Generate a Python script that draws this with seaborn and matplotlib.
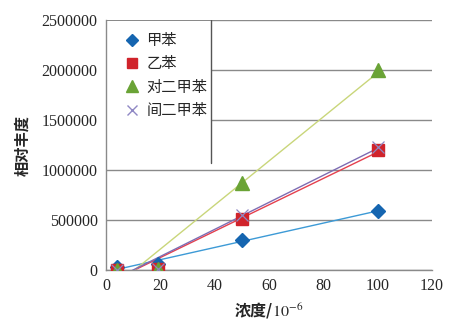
import numpy as np
import pandas as pd
import seaborn as sns
import matplotlib
matplotlib.use("Agg")
import matplotlib.pyplot as plt
from matplotlib.patches import Rectangle
from matplotlib.lines import Line2D

# data
conc = [4, 19, 50, 100]
series_names = ["甲苯", "乙苯", "对二甲苯", "间二甲苯"]
toluene = [30000, 60000, 300000, 590000]
ethylbenzene = [5000, 10000, 510000, 1200000]
p_xylene = [5000, 10000, 870000, 2000000]
m_xylene = [5000, 15000, 550000, 1230000]
x_ticks = [0, 20, 40, 60, 80, 100, 120]
y_ticks = [0, 500000, 1000000, 1500000, 2000000, 2500000]

sns.set_style("white")
plt.rcParams['font.family'] = ['Liberation Serif', 'Noto Sans CJK SC', 'DejaVu Sans']
plt.rcParams['mathtext.fontset'] = 'stix'

rows = []
for name, vals in zip(series_names, [toluene, ethylbenzene, p_xylene, m_xylene]):
    for x, y in zip(conc, vals):
        rows.append({"浓度": x, "相对丰度": y, "物质": name})
df = pd.DataFrame(rows)

fig = plt.figure(figsize=(4.56, 3.21), dpi=100)
ax = fig.add_axes([106/456, 1 - 270/321, 326/456, 250/321])

marker_col = {"甲苯": "#1565b0", "乙苯": "#d0232b", "对二甲苯": "#6aa336", "间二甲苯": "#8f88c4"}
line_col = {"甲苯": "#3d9ad6", "乙苯": "#e5404e", "对二甲苯": "#c9d67a", "间二甲苯": "#7d6cb3"}
markers = {"甲苯": "D", "乙苯": "s", "对二甲苯": "^", "间二甲苯": "x"}
msize = {"甲苯": 7, "乙苯": 9, "对二甲苯": 9.5, "间二甲苯": 9}

for name in series_names:
    sub = df[df["物质"] == name]
    sns.regplot(data=sub, x="浓度", y="相对丰度", ax=ax, scatter=False, ci=None,
                truncate=True, line_kws=dict(color=line_col[name], lw=1.0, zorder=3))

for name in series_names:
    sub = df[df["物质"] == name]
    ax.plot(sub["浓度"], sub["相对丰度"], linestyle="none", marker=markers[name],
            markersize=msize[name], color=marker_col[name],
            markeredgewidth=1.0 if name != "间二甲苯" else 0.9, zorder=4 if name != "间二甲苯" else 5)

ax.set_xlim(0, 120)
ax.set_ylim(0, 2500000)
ax.set_xticks(x_ticks)
ax.set_yticks(y_ticks)
ax.set_xticklabels([str(t) for t in x_ticks], fontsize=11.5)
ax.set_yticklabels([str(t) for t in y_ticks], fontsize=11.5)
ax.yaxis.grid(True, color="#8a8a8a", lw=1.0)
ax.set_axisbelow(True)
for s in ["top", "right"]:
    ax.spines[s].set_visible(False)
for s in ["left", "bottom"]:
    ax.spines[s].set_color("#8a8a8a")
    ax.spines[s].set_linewidth(1.0)
ax.tick_params(axis="both", direction="out", length=4, color="#8a8a8a", width=1.0, pad=2)

# legend box
ax.add_patch(Rectangle((0, 0.428), 0.322, 0.566, transform=ax.transAxes,
                       facecolor="white", edgecolor="none", zorder=2))
ax.add_line(Line2D([0.322, 0.322], [0.428, 1.0], transform=ax.transAxes,
                   color="#555555", lw=1.0, zorder=2))
handles = [Line2D([], [], linestyle="none", marker=markers[n], color=marker_col[n],
                  markersize=msize[n] * 0.85) for n in series_names]
leg = ax.legend(handles, series_names, loc="upper left", bbox_to_anchor=(0.02, 0.995),
                frameon=False, handlelength=1.2, handletextpad=0.3, labelspacing=0.42,
                borderaxespad=0.3, prop={"family": ["Noto Sans CJK SC"], "size": 11})
leg.set_zorder(6)

ax.set_xlabel("浓度/$10^{-6}$", fontsize=11.5, family=["Noto Sans CJK SC", "DejaVu Sans"],
              fontweight="bold", labelpad=4)
ax.set_ylabel("相对丰度", fontsize=11, family=["Noto Sans CJK SC"], fontweight="bold", labelpad=8)

fig.savefig("out.png", dpi=100)
